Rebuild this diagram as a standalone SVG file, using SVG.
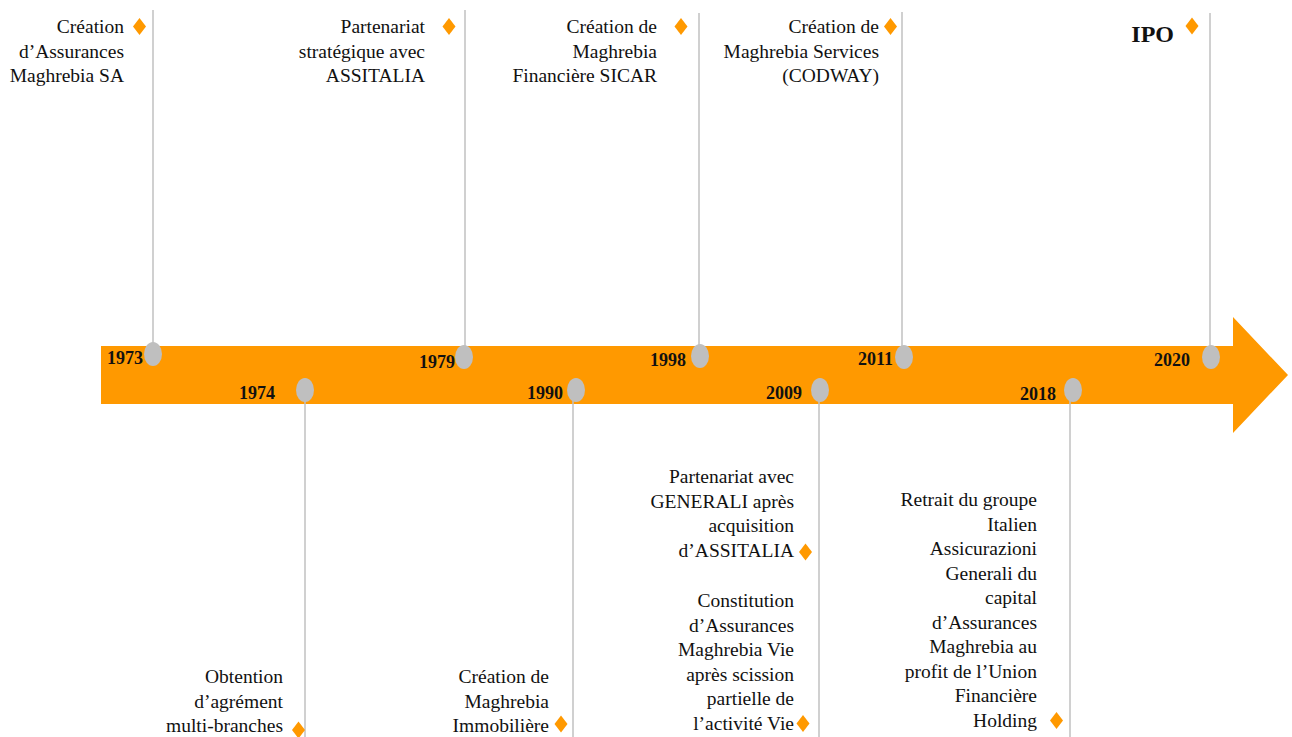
<svg xmlns="http://www.w3.org/2000/svg" width="1292" height="737" viewBox="0 0 1292 737">
<defs>
<polygon id="dia" points="0,-8.5 6.5,0 0,8.5 -6.5,0" fill="#FF9900"/>
<style>
.t{font-family:"Liberation Serif","Times New Roman",serif;font-size:19.5px;fill:#111;text-anchor:end}
.y{font-family:"Liberation Serif","Times New Roman",serif;font-size:18px;font-weight:bold;fill:#111;text-anchor:end}
.ipo{font-family:"Liberation Serif","Times New Roman",serif;font-size:24px;font-weight:bold;fill:#111;text-anchor:end}
.ln{stroke:#C0C0C0;stroke-width:1.5;fill:none}
.dot{fill:#BFBFBF}
</style>
</defs>
<rect width="1292" height="737" fill="#fff"/>
<g id="arrow">
<polygon points="101,346 1233,346 1233,317 1288,375 1233,433 1233,404 101,404" fill="#FF9900"/>
</g>
<g id="connectors">
<line class="ln" x1="153" y1="10" x2="153" y2="345"/>
<line class="ln" x1="465" y1="10" x2="465" y2="348"/>
<line class="ln" x1="699" y1="13" x2="699" y2="347"/>
<line class="ln" x1="902" y1="12" x2="902" y2="348"/>
<line class="ln" x1="1210" y1="13" x2="1210" y2="348"/>
<line class="ln" x1="305" y1="400" x2="305" y2="737"/>
<line class="ln" x1="573" y1="400" x2="573" y2="737"/>
<line class="ln" x1="819" y1="400" x2="819" y2="737"/>
<line class="ln" x1="1070" y1="400" x2="1070" y2="737"/>
</g>
<g id="n1973">
<ellipse class="dot" cx="153" cy="354" rx="9" ry="12"/>
<text class="y" x="143" y="364">1973</text>
<text class="t" x="124"><tspan x="124" y="33">Création</tspan><tspan x="124" y="57.5">d’Assurances</tspan><tspan x="124" y="82">Maghrebia SA</tspan></text>
<use href="#dia" x="139.5" y="26.5"/>
</g>
<g id="n1979">
<ellipse class="dot" cx="464" cy="357" rx="9" ry="12"/>
<text class="y" x="455" y="368">1979</text>
<text class="t" x="425"><tspan x="425" y="33">Partenariat</tspan><tspan x="425" y="57.5">stratégique avec</tspan><tspan x="425" y="82">ASSITALIA</tspan></text>
<use href="#dia" x="449" y="26.5"/>
</g>
<g id="n1998">
<ellipse class="dot" cx="700" cy="356" rx="9" ry="12"/>
<text class="y" x="686" y="366">1998</text>
<text class="t" x="657"><tspan x="657" y="33">Création de</tspan><tspan x="657" y="57.5">Maghrebia</tspan><tspan x="657" y="82">Financière SICAR</tspan></text>
<use href="#dia" x="681" y="26.5"/>
</g>
<g id="n2011">
<ellipse class="dot" cx="904" cy="357" rx="9" ry="12"/>
<text class="y" x="893" y="365">2011</text>
<text class="t" x="879"><tspan x="879" y="33">Création de</tspan><tspan x="879" y="57.5">Maghrebia Services</tspan><tspan x="879" y="82">(CODWAY)</tspan></text>
<use href="#dia" x="890.5" y="26.5"/>
</g>
<g id="n2020">
<ellipse class="dot" cx="1211" cy="357" rx="9" ry="12"/>
<text class="y" x="1190" y="366">2020</text>
<text class="ipo" x="1174" y="42">IPO</text>
<use href="#dia" x="1192" y="26"/>
</g>
<g id="n1974">
<ellipse class="dot" cx="305" cy="390" rx="9" ry="12"/>
<text class="y" x="275" y="399">1974</text>
<text class="t" x="283"><tspan x="283" y="683">Obtention</tspan><tspan x="283" y="707.5">d’agrément</tspan><tspan x="283" y="732">multi-branches</tspan></text>
<use href="#dia" x="298.5" y="730"/>
</g>
<g id="n1990">
<ellipse class="dot" cx="576" cy="390" rx="9" ry="12"/>
<text class="y" x="563" y="399">1990</text>
<text class="t" x="549"><tspan x="549" y="683">Création de</tspan><tspan x="549" y="707.5">Maghrebia</tspan><tspan x="549" y="732">Immobilière</tspan></text>
<use href="#dia" x="561" y="724"/>
</g>
<g id="n2009">
<ellipse class="dot" cx="820" cy="390" rx="9" ry="12"/>
<text class="y" x="802" y="399">2009</text>
<text class="t" x="794"><tspan x="794" y="483">Partenariat avec</tspan><tspan x="794" y="507.5">GENERALI après</tspan><tspan x="794" y="532">acquisition</tspan><tspan x="794" y="556.5">d’ASSITALIA</tspan></text>
<use href="#dia" x="805.5" y="552"/>
<text class="t" x="794"><tspan x="794" y="607">Constitution</tspan><tspan x="794" y="631.5">d’Assurances</tspan><tspan x="794" y="656">Maghrebia Vie</tspan><tspan x="794" y="680.5">après scission</tspan><tspan x="794" y="705">partielle de</tspan><tspan x="794" y="729.5">l’activité Vie</tspan></text>
<use href="#dia" x="803" y="723.5"/>
</g>
<g id="n2018">
<ellipse class="dot" cx="1073" cy="390" rx="9" ry="12"/>
<text class="y" x="1056" y="400">2018</text>
<text class="t" x="1037"><tspan x="1037" y="506">Retrait du groupe</tspan><tspan x="1037" y="530.5">Italien</tspan><tspan x="1037" y="555">Assicurazioni</tspan><tspan x="1037" y="579.5">Generali du</tspan><tspan x="1037" y="604">capital</tspan><tspan x="1037" y="628.5">d’Assurances</tspan><tspan x="1037" y="653">Maghrebia au</tspan><tspan x="1037" y="677.5">profit de l’Union</tspan><tspan x="1037" y="702">Financière</tspan><tspan x="1037" y="726.5">Holding</tspan></text>
<use href="#dia" x="1056.5" y="720.5"/>
</g>
</svg>
